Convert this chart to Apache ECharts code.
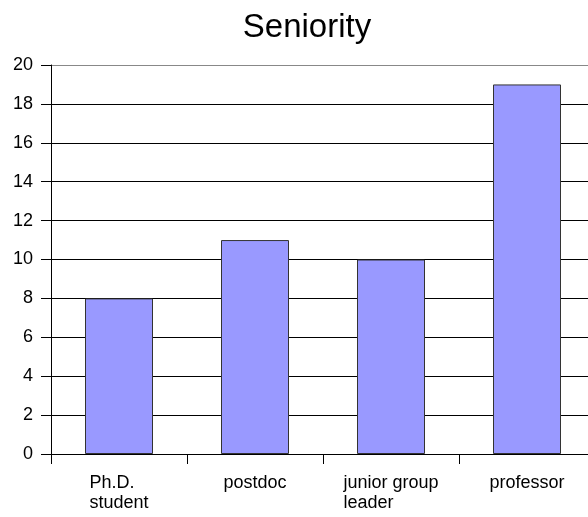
<!DOCTYPE html>
<html>
<head>
<meta charset="utf-8">
<script src="https://cdn.jsdelivr.net/npm/echarts@6/dist/echarts.min.js"></script>
<style>
  html, body { margin: 0; padding: 0; background: #fff; overflow: hidden; }
  #chart { width: 595px; height: 517px; }
</style>
</head>
<body>
<div id="chart"></div>
<script>
const categories = ['Ph.D.\nstudent', 'postdoc', 'junior group\nleader', 'professor'];
const counts = [8, 11, 10, 19];
const yTicks = [0, 2, 4, 6, 8, 10, 12, 14, 16, 18, 20];

const font = 'Liberation Sans, Arial, sans-serif';
const chart = echarts.init(document.getElementById('chart'), null, { renderer: 'canvas' });

chart.setOption({
  animation: false,
  backgroundColor: '#fff',
  title: {
    text: 'Seniority',
    left: 302,
    textAlign: 'center',
    top: 6,
    textStyle: { fontFamily: font, fontSize: 33, fontWeight: 'normal', color: '#000' }
  },
  grid: { left: 51, right: 0, top: 65, bottom: 63, containLabel: false },
  xAxis: {
    type: 'category',
    data: categories,
    axisLine: { lineStyle: { color: '#000', width: 1 } },
    axisTick: { show: true, interval: 0, length: 10, inside: false, lineStyle: { color: '#000' } },
    axisLabel: {
      interval: 0,
      hideOverlap: false,
      margin: 19,
      fontFamily: font,
      fontSize: 18,
      color: '#000',
      lineHeight: 20,
      formatter: v => v.split('\n').map(s => '{l|' + s + '}').join('\n'),
      rich: { l: { align: 'left', fontFamily: font, fontSize: 18, lineHeight: 20, color: '#000' } }
    }
  },
  yAxis: {
    type: 'value',
    min: yTicks[0],
    max: yTicks[yTicks.length - 1],
    interval: 2,
    axisLine: { show: true, lineStyle: { color: '#000' } },
    axisTick: { show: true, length: 10, lineStyle: { color: '#000' } },
    axisLabel: { margin: 18, fontFamily: font, fontSize: 18, color: '#000' },
    splitLine: {
      lineStyle: {
        color: yTicks.map((t, i) => (i === yTicks.length - 1 ? '#888' : '#000')),
        width: 1
      }
    }
  },
  series: [{
    type: 'bar',
    data: counts,
    barWidth: '50%',
    itemStyle: { color: '#9999ff', borderColor: '#333', borderWidth: 1 }
  }]
});
</script>
</body>
</html>
